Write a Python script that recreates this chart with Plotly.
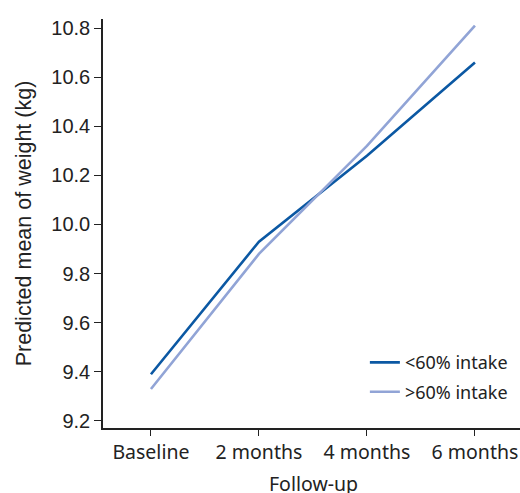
import plotly.graph_objects as go

categories = ["Baseline", "2 months", "4 months", "6 months"]
low_intake = [9.39, 9.93, 10.28, 10.66]
high_intake = [9.33, 9.88, 10.32, 10.81]
series_names = ["<60% intake", ">60% intake"]
y_ticks = [9.2, 9.4, 9.6, 9.8, 10.0, 10.2, 10.4, 10.6, 10.8]
y_tick_text = ["9.2", "9.4", "9.6", "9.8", "10.0", "10.2", "10.4", "10.6", "10.8"]
x_title = "Follow-up"
y_title = "Predicted mean of weight (kg)"

x_idx = list(range(len(categories)))

fig = go.Figure()
fig.add_trace(go.Scatter(x=x_idx, y=low_intake, mode="lines", name=series_names[0],
                         legendgroup="a",
                         line=dict(color="#0b58a3", width=2.6)))
fig.add_trace(go.Scatter(x=x_idx, y=high_intake, mode="lines", name=series_names[1],
                         legendgroup="b",
                         line=dict(color="#91a4d6", width=2.6)))

fig.update_layout(
    width=520, height=493,
    margin=dict(l=103, r=0, t=19, b=65, autoexpand=False),
    paper_bgcolor="white", plot_bgcolor="white",
    showlegend=True,
    legend=dict(x=0.628, y=0.205, xanchor="left", yanchor="top",
                font=dict(family="Noto Sans", size=18, color="#222"),
                bgcolor="rgba(0,0,0,0)", tracegroupgap=3, itemwidth=30),
    xaxis=dict(
        range=[-0.444, 3.417],
        tickmode="array", tickvals=x_idx, ticktext=categories,
        showline=True, linecolor="#222", linewidth=1.5,
        ticks="outside", ticklen=6, tickcolor="#222", tickwidth=1.2,
        showgrid=False, zeroline=False,
        tickfont=dict(family="Noto Sans", size=19.5, color="#222"),
    ),
    yaxis=dict(
        range=[9.171, 10.837],
        tickmode="array", tickvals=y_ticks, ticktext=y_tick_text,
        showline=True, linecolor="#222", linewidth=1.5,
        ticks="outside", ticklen=7, tickcolor="#222", tickwidth=1.2,
        showgrid=False, zeroline=False,
        tickfont=dict(family="Liberation Sans", size=20, color="#222"),
        title=dict(text=y_title,
                   font=dict(family="Liberation Sans", size=21.5, color="#222"), standoff=14),
    ),
    annotations=[dict(text=x_title, xref="paper", yref="paper", x=0.504, y=-0.098,
                      xanchor="center", yanchor="top", showarrow=False,
                      font=dict(family="Noto Sans", size=19.5, color="#222"))],
)

fig.write_html("out.html",
               config={"displayModeBar": False},
               post_script="document.body.style.margin='0';document.body.style.padding='0';")
